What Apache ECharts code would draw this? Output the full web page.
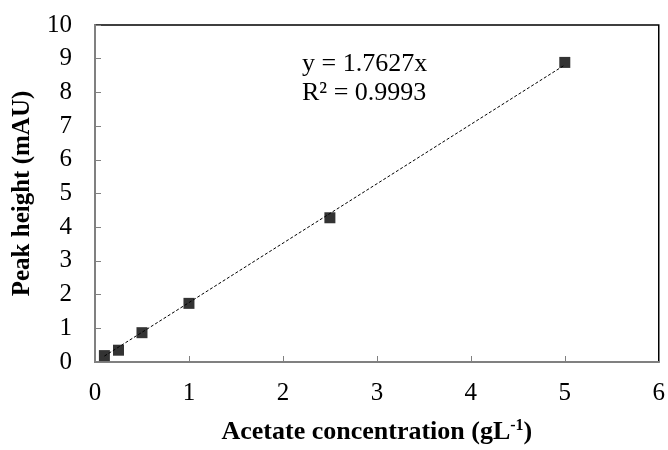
<!DOCTYPE html>
<html>
<head>
    <meta charset="utf-8">
    <title>Acetate calibration</title>
    <style>
        html, body { margin: 0; padding: 0; background: #fff; }
        #main { width: 668px; height: 450px; }
    </style>
</head>
<body>
<div id="main"></div>
<script src="https://cdn.jsdelivr.net/npm/echarts@6/dist/echarts.min.js"></script>
<script type="text/javascript">
    // data
    var concentration = [0.1, 0.25, 0.5, 1, 2.5, 5];
    var peakHeight = [0.19, 0.35, 0.87, 1.74, 4.28, 8.89];
    var slope = 1.7627;
    var rSquared = 0.9993;
    var xTicks = [0, 1, 2, 3, 4, 5, 6];
    var yTicks = [0, 1, 2, 3, 4, 5, 6, 7, 8, 9, 10];

    var points = [];
    for (var i = 0; i < concentration.length; i++) {
        points.push([concentration[i], peakHeight[i]]);
    }
    // linear trend through origin, over the data range
    var xFirst = concentration[0];
    var xLast = concentration[concentration.length - 1];
    var trend = [[xFirst, slope * xFirst], [xLast, slope * xLast]];

    var font = 'Liberation Serif, Times New Roman, serif';
    var grey = '#808080';

    var myChart = echarts.init(document.getElementById('main'));
    var option = {
        backgroundColor: '#fff',
        animation: false,
        textStyle: { fontFamily: font },
        grid: {
            left: 95, top: 25, right: 6, bottom: 83,
            show: true, borderColor: '#000', borderWidth: 1.5,
            containLabel: false
        },
        xAxis: {
            type: 'value',
            min: xTicks[0], max: xTicks[xTicks.length - 1], interval: 1,
            name: 'Acetate concentration (gL{sup|-1})',
            nameLocation: 'middle',
            nameGap: 56,
            nameTextStyle: {
                fontFamily: font, fontSize: 26, fontWeight: 'bold', color: '#000',
                rich: {
                    sup: { fontFamily: font, fontSize: 16, fontWeight: 'bold', color: '#000', verticalAlign: 'top', padding: [0, 0, 12, 0] }
                }
            },
            axisLine: { show: true, onZero: false, lineStyle: { color: grey, width: 2 } },
            axisTick: { show: true, inside: true, length: 6, lineStyle: { color: grey, width: 1 } },
            axisLabel: { margin: 19, fontFamily: font, fontSize: 25, color: '#000' },
            splitLine: { show: false }
        },
        yAxis: {
            type: 'value',
            min: yTicks[0], max: yTicks[yTicks.length - 1], interval: 1,
            name: 'Peak height (mAU)',
            nameLocation: 'middle',
            nameGap: 60,
            nameTextStyle: { fontFamily: font, fontSize: 25, fontWeight: 'bold', color: '#000' },
            axisLine: { show: true, onZero: false, lineStyle: { color: grey, width: 2 } },
            axisTick: { show: true, inside: true, length: 6, lineStyle: { color: grey, width: 1 } },
            axisLabel: { margin: 23, fontFamily: font, fontSize: 25, color: '#000' },
            splitLine: { show: false }
        },
        graphic: [{
            type: 'text',
            left: 302, top: 50,
            style: {
                text: 'y = ' + slope + 'x\nR² = ' + rSquared,
                font: '26px ' + font,
                fill: '#000',
                lineHeight: 29
            }
        }],
        series: [
            {
                name: 'trend',
                type: 'line',
                data: trend,
                symbol: 'none',
                lineStyle: { color: '#000', width: 1, type: [3, 2] },
                z: 2
            },
            {
                name: 'peak',
                type: 'scatter',
                data: points,
                symbol: 'rect',
                symbolSize: 11,
                itemStyle: { color: '#000' },
                z: 3
            }
        ]
    };
    myChart.setOption(option);
</script>
</body>
</html>
